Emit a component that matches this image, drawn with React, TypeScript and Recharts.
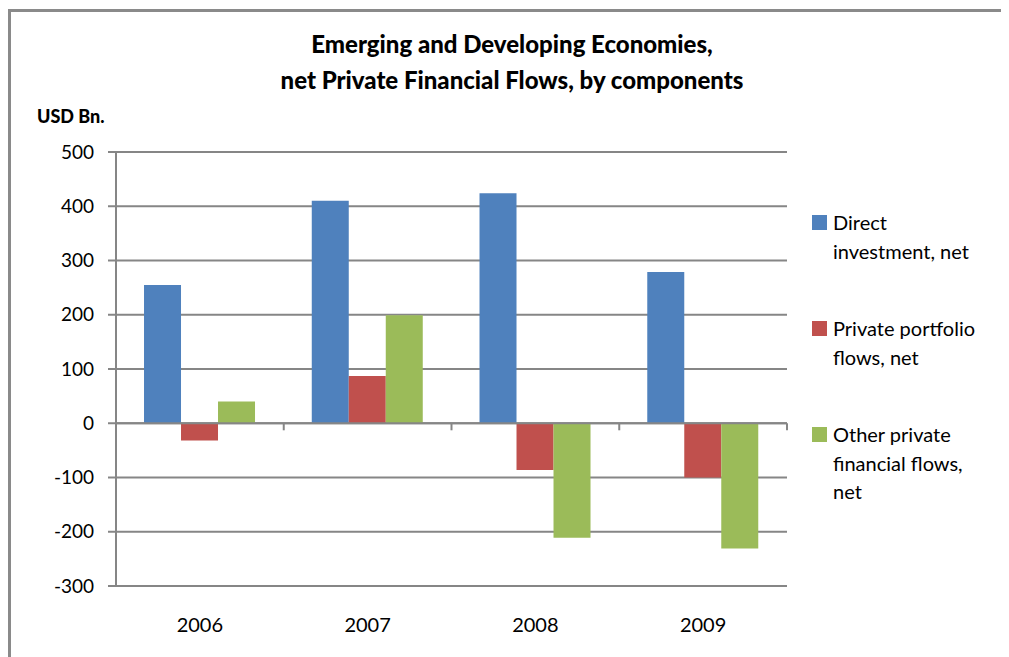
import React from 'react';
import { BarChart, Bar, XAxis, YAxis, CartesianGrid, ReferenceLine, Legend } from 'recharts';

const years = ['2006', '2007', '2008', '2009'];
const directInvestment = [255, 410, 424, 279];
const portfolioFlows = [-32, 87, -86, -100];
const otherFlows = [40, 199, -211, -231];

const seriesNames = ['Direct investment, net', 'Private portfolio flows, net', 'Other private financial flows, net'];
const legendLines = [
  ['Direct', 'investment, net'],
  ['Private portfolio', 'flows, net'],
  ['Other private', 'financial flows,', 'net'],
];
const seriesColors = ['#4F81BD', '#C0504D', '#9BBB59'];
const yTicks = [-300, -200, -100, 0, 100, 200, 300, 400, 500];

const data = years.map((year, i) => ({
  year,
  direct: directInvestment[i],
  portfolio: portfolioFlows[i],
  other: otherFlows[i],
}));

const GRAY = '#868686';
const FONT = 'Lato, "DejaVu Sans", sans-serif';

// tick marks on the zero line, at the edges of each category band
const edgeMarks = [
  ...years.map((y) => ({ year: y, position: 'start' as const })),
  { year: years[years.length - 1], position: 'end' as const },
];

const LegendBox = () => (
  <div style={{ fontFamily: FONT, fontSize: 20, color: '#000', textAlign: 'left' }}>
    {legendLines.map((lines, i) => (
      <div key={seriesNames[i]} style={{ position: 'relative', height: 106, paddingLeft: 23 }}>
        <div
          style={{
            position: 'absolute',
            left: 2,
            top: 7,
            width: 15,
            height: 15,
            background: seriesColors[i],
          }}
        />
        {lines.map((l) => (
          <div key={l} style={{ lineHeight: '28.5px', whiteSpace: 'nowrap' }}>
            {l}
          </div>
        ))}
      </div>
    ))}
  </div>
);

const App = () => {
  return (
    <div style={{ position: 'relative', width: 1009, height: 657, margin: '-8px 0 0 -8px', overflow: 'hidden', background: '#fff' }}>
      {/* outer frame */}
      <div
        style={{
          position: 'absolute',
          left: 8,
          top: 9,
          width: 1020,
          height: 680,
          border: '3px solid #8a8a8a',
        }}
      />
      <div
        style={{
          position: 'absolute',
          left: 0,
          top: 26,
          width: 1024,
          textAlign: 'center',
          fontFamily: FONT,
          fontWeight: 900,
          fontSize: 24,
          lineHeight: '36px',
          color: '#000',
        }}
      >
        <div>Emerging and Developing Economies,</div>
        <div>net Private Financial Flows, by components</div>
      </div>
      <div
        style={{
          position: 'absolute',
          left: 37,
          top: 105,
          fontFamily: FONT,
          fontWeight: 900,
          fontSize: 18,
          color: '#000',
        }}
      >
        USD Bn.
      </div>
      <div style={{ position: 'absolute', left: 0, top: 0 }}>
        <BarChart
          width={1009}
          height={657}
          data={data}
          margin={{ top: 152, right: 222, left: 56, bottom: 31 }}
          barCategoryGap="16.7%"
          barGap={0}
        >
          <CartesianGrid vertical={false} stroke={GRAY} strokeWidth={2} strokeDasharray="" />
          <XAxis
            dataKey="year"
            height={40}
            axisLine={false}
            tickLine={false}
            tickSize={6}
            tickMargin={26}
            interval={0}
            tick={{ fill: '#000', fontSize: 20, fontFamily: FONT }}
          />
          <YAxis
            domain={[-300, 500]}
            ticks={yTicks}
            width={60}
            interval={0}
            axisLine={{ stroke: GRAY, strokeWidth: 2 }}
            tickLine={{ stroke: GRAY, strokeWidth: 2 }}
            tickSize={8}
            tickMargin={14}
            tick={{ fill: '#000', fontSize: 19, fontFamily: FONT }}
          />
          <Bar dataKey="direct" name={seriesNames[0]} fill={seriesColors[0]} isAnimationActive={false} />
          <Bar dataKey="portfolio" name={seriesNames[1]} fill={seriesColors[1]} isAnimationActive={false} />
          <Bar dataKey="other" name={seriesNames[2]} fill={seriesColors[2]} isAnimationActive={false} />
          <ReferenceLine y={0} stroke={GRAY} strokeWidth={2} />
          {edgeMarks.map((m) => (
            <ReferenceLine
              key={m.year + m.position}
              position={m.position}
              segment={[
                { x: m.year, y: 0 },
                { x: m.year, y: -13 },
              ]}
              stroke={GRAY}
              strokeWidth={2}
            />
          ))}
          <Legend
            layout="vertical"
            align="center"
            verticalAlign="middle"
            content={<LegendBox />}
            wrapperStyle={{ left: 810, top: 208, width: 199 }}
          />
        </BarChart>
      </div>
    </div>
  );
};

export default App;
